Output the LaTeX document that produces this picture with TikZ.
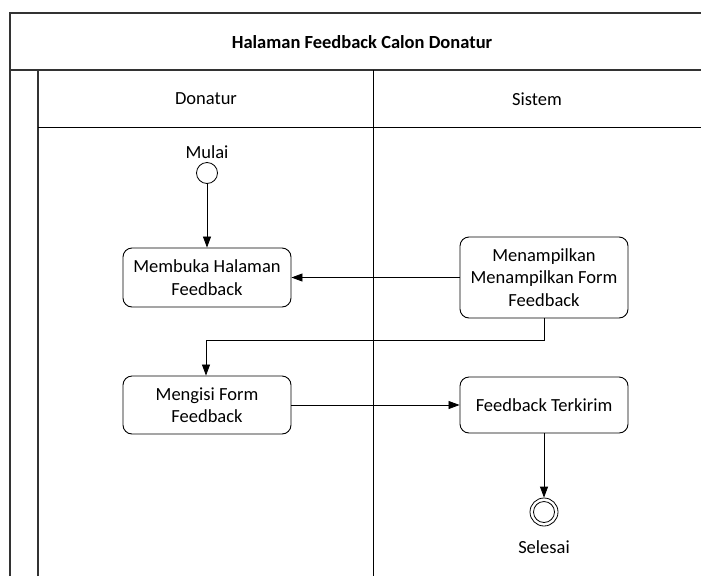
\documentclass[tikz,border=0pt]{standalone}
\usepackage{fontspec}
\setmainfont{Carlito}
\usetikzlibrary{arrows.meta}
\begin{document}
\begin{tikzpicture}[x=1pt,y=-1pt,
  frame/.style={draw=black!80,line width=1.4pt},
  act/.style={draw,rounded corners=9pt,line width=0.9pt,minimum width=168pt,align=center,font=\fontsize{18.5}{22.5}\selectfont,inner sep=0pt},
  flow/.style={line width=0.8pt,-{Triangle[length=11pt,width=8pt]}},
  lbl/.style={font=\fontsize{18.5}{22.5}\selectfont}]
\useasboundingbox (0,0) rectangle (701,576);
% swimlane frame
\draw[frame] (10,576) -- (10,13) -- (701,13);
\draw[frame] (10,70) -- (701,70);
\draw[frame] (38,576) -- (38,70);
\draw[line width=1pt] (38,127) -- (701,127);
\draw[line width=1pt] (373,70) -- (373,576);
\node[font=\bfseries\fontsize{18.5}{22.5}\selectfont] (title) at (362,42) {Halaman Feedback Calon Donatur};
\node[lbl] (laneA) at (206,99) {Donatur};
\node[lbl] (laneB) at (537,99) {Sistem};
% activities
\node[draw,circle,line width=0.8pt,minimum size=21pt,inner sep=0pt] (start) at (207,173) {};
\node[lbl,above=0pt] (startlbl) at (start.north) {Mulai};
\node[act,minimum height=59pt] (a1) at (207,277.5) {Membuka Halaman\\Feedback};
\node[act,minimum height=81pt] (a2) at (544,277.5) {Menampilkan\\Menampilkan Form\\Feedback};
\node[act,minimum height=58pt] (a3) at (207,405) {Mengisi Form\\Feedback};
\node[act,minimum height=56pt] (a4) at (544,405) {Feedback Terkirim};
\node[draw,circle,line width=0.8pt,minimum size=28pt,inner sep=0pt] (stop) at (544,512) {};
\node[draw,circle,line width=0.8pt,minimum size=21pt,inner sep=0pt] (stopin) at (stop) {};
\node[lbl] (stoplbl) at (544,547) {Selesai};
% connectors
\draw[flow] (start) -- (a1);
\draw[flow] (a2.west) -- (a1.east);
\draw[flow] (a2.south) |- (206,340) -- (206,340 |- a3.north);
\draw[flow] (a3.east) -- (a4.west);
\draw[flow] (a4) -- (stop);
\end{tikzpicture}
\end{document}
